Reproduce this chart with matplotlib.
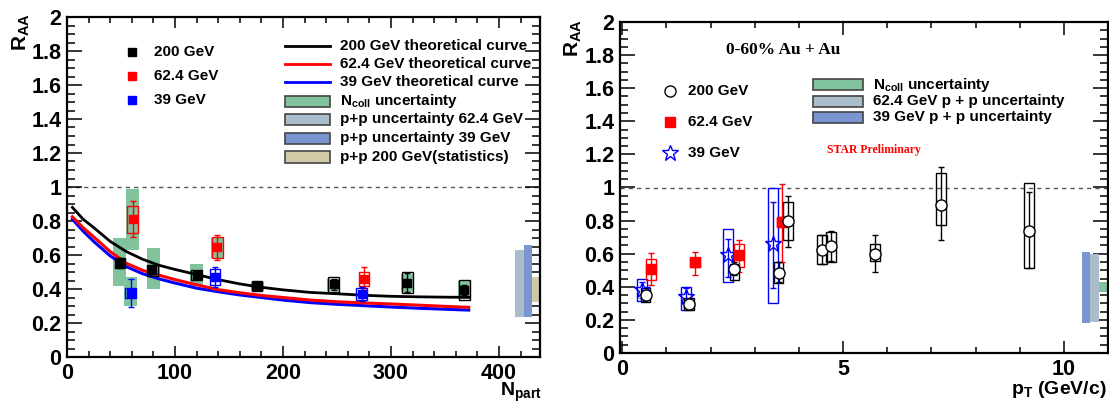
import matplotlib
matplotlib.use('Agg')
import matplotlib.pyplot as plt
from matplotlib.patches import Rectangle
from matplotlib.lines import Line2D
from matplotlib.ticker import MultipleLocator, FormatStrFormatter

plt.rcParams['font.family'] = ['Liberation Sans', 'DejaVu Sans']
plt.rcParams['font.weight'] = 'bold'
plt.rcParams['mathtext.fontset'] = 'custom'
plt.rcParams['mathtext.rm'] = 'Liberation Sans:bold'
plt.rcParams['mathtext.it'] = 'Liberation Sans:bold'
plt.rcParams['mathtext.bf'] = 'Liberation Sans:bold'

# ---------------- Left panel data (R_AA vs Npart) ----------------
curve_npart = [5, 15, 25, 40, 55, 70, 85, 100, 120, 140, 160, 180, 200, 225, 250, 275, 300, 325, 350, 372]
curve_200 = [0.88, 0.81, 0.76, 0.68, 0.62, 0.575, 0.54, 0.515, 0.485, 0.455, 0.43, 0.41, 0.395, 0.38, 0.372, 0.363, 0.357, 0.354, 0.352, 0.351]
curve_62 = [0.825, 0.76, 0.705, 0.62, 0.551, 0.51, 0.482, 0.455, 0.425, 0.396, 0.378, 0.362, 0.35, 0.335, 0.325, 0.318, 0.312, 0.305, 0.298, 0.292]
curve_39 = [0.81, 0.74, 0.678, 0.595, 0.531, 0.49, 0.46, 0.435, 0.405, 0.384, 0.365, 0.35, 0.335, 0.32, 0.31, 0.302, 0.294, 0.287, 0.281, 0.276]

n200 = [49, 79, 120, 176, 247, 315, 368]
r200 = [0.555, 0.51, 0.482, 0.416, 0.427, 0.437, 0.394]
sys200 = [0.03, 0.032, 0.03, 0.03, 0.042, 0.063, 0.06]
stat200 = [0.03, 0.02, 0.02, 0.02, 0.03, 0.055, 0.03]

n62 = [61, 139, 275]
r62 = [0.81, 0.645, 0.459]
sys62 = [0.078, 0.063, 0.042]
stat62 = [0.105, 0.073, 0.068]

n39 = [59, 137, 273]
r39 = [0.378, 0.471, 0.37]
sys39 = [0.03, 0.047, 0.035]
stat39 = [0.083, 0.06, 0.04]

ncoll_x = [49, 61, 59, 80, 120, 139, 176, 247, 315, 368]
ncoll_lo = [0.42, 0.63, 0.30, 0.40, 0.42, 0.585, 0.39, 0.39, 0.38, 0.34]
ncoll_hi = [0.70, 0.99, 0.47, 0.64, 0.547, 0.70, 0.44, 0.46, 0.49, 0.445]

# p+p bands at right edge (x-range, low, high)
band_names = ['pp 62.4', 'pp 39', 'pp 200']
band_x0 = [415, 423, 431]
band_x1 = [423, 431, 440]
band_lo = [0.235, 0.235, 0.325]
band_hi = [0.632, 0.66, 0.47]

# ---------------- Right panel data (R_AA vs pT) ----------------
pt200 = [0.53, 1.52, 2.54, 3.54, 3.76, 4.52, 4.72, 5.72, 7.22, 9.21]
ra200 = [0.35, 0.298, 0.51, 0.485, 0.795, 0.62, 0.645, 0.60, 0.896, 0.738]
box200_lo = [0.31, 0.26, 0.44, 0.42, 0.68, 0.535, 0.55, 0.555, 0.775, 0.515]
box200_hi = [0.39, 0.33, 0.54, 0.55, 0.915, 0.71, 0.73, 0.66, 1.09, 1.03]
err200_lo = [0.32, 0.275, 0.47, 0.43, 0.64, 0.54, 0.555, 0.49, 0.68, 0.515]
err200_hi = [0.38, 0.32, 0.55, 0.55, 0.95, 0.71, 0.735, 0.71, 1.125, 0.97]

pt62 = [0.65, 1.65, 2.65, 3.61]
ra62 = [0.51, 0.55, 0.593, 0.79]
box62_lo = [0.44, 0.52, 0.52, 0.76]
box62_hi = [0.57, 0.575, 0.66, 0.82]
err62_lo = [0.41, 0.47, 0.49, 0.55]
err62_hi = [0.605, 0.61, 0.68, 1.02]

pt39 = [0.45, 1.45, 2.4, 3.41]
ra39 = [0.383, 0.34, 0.593, 0.66]
box39_lo = [0.312, 0.26, 0.43, 0.30]
box39_hi = [0.449, 0.40, 0.75, 1.0]
err39_lo = [0.33, 0.28, 0.46, 0.39]
err39_hi = [0.43, 0.39, 0.69, 0.915]

rband_x0 = [10.4, 10.6, 10.8]
rband_x1 = [10.6, 10.8, 11.0]
rband_lo = [0.18, 0.19, 0.37]
rband_hi = [0.61, 0.60, 0.43]

GREEN = '#80c39d'
GREY = '#a9bdca'
BLUEB = '#7a96d0'
TAN = '#d0c9a8'
RED = '#ff0000'
BLUE = '#0000ff'

W, H = 1109, 405
fig = plt.figure(figsize=(W / 100, H / 100), dpi=100)


def fx(px):
    return px / W


def fy(py):
    return 1 - py / H


def style_axes(ax, xmaj, xmin, xmajlen=8, xminlen=4):
    for s in ax.spines.values():
        s.set_linewidth(1.6)
    ax.yaxis.set_major_locator(MultipleLocator(0.2))
    ax.yaxis.set_minor_locator(MultipleLocator(0.05))
    ax.xaxis.set_major_locator(MultipleLocator(xmaj))
    ax.xaxis.set_minor_locator(MultipleLocator(xmin))
    ax.yaxis.set_major_formatter(FormatStrFormatter('%g'))
    ax.xaxis.set_major_formatter(FormatStrFormatter('%g'))
    ax.tick_params(which='both', direction='in', top=True, right=True, width=1.1,
                   labelsize=15.5, pad=4)
    ax.tick_params(axis='y', which='major', length=11)
    ax.tick_params(axis='y', which='minor', length=5.5)
    ax.tick_params(axis='x', which='major', length=xmajlen)
    ax.tick_params(axis='x', which='minor', length=xminlen)
    ax.axhline(1.0, color='#555555', lw=1, ls=(0, (3, 3)), zorder=1)


# ================= LEFT PANEL =================
axL = fig.add_axes([fx(67), fy(357), fx(540) - fx(67), fy(17) - fy(357)])
axL.set_xlim(0, 438)
axL.set_ylim(0, 2)
style_axes(axL, 100, 20)

for x, lo, hi in zip(ncoll_x, ncoll_lo, ncoll_hi):
    axL.add_patch(Rectangle((x - 6, lo), 12, hi - lo, facecolor=GREEN, edgecolor='none', zorder=2))
for x0, x1, lo, hi, c in zip(band_x0, band_x1, band_lo, band_hi, [GREY, BLUEB, TAN]):
    axL.add_patch(Rectangle((x0, lo), x1 - x0, hi - lo, facecolor=c, edgecolor='none', zorder=2, clip_on=True))

axL.plot(curve_npart, curve_200, color='black', lw=2, zorder=3)
axL.plot(curve_npart, curve_39, color=BLUE, lw=2.2, zorder=3)
axL.plot(curve_npart, curve_62, color=RED, lw=2.2, zorder=3.1)

for xs, ys, sy, st, c in [(n200, r200, sys200, stat200, 'black'),
                          (n62, r62, sys62, stat62, RED),
                          (n39, r39, sys39, stat39, BLUE)]:
    for x, y, s in zip(xs, ys, sy):
        axL.add_patch(Rectangle((x - 5, y - s), 10, 2 * s, facecolor='none', edgecolor=c, lw=1, zorder=4))
    axL.errorbar(xs, ys, yerr=st, fmt='s', color=c, ms=6, elinewidth=1, capsize=2, capthick=1, zorder=5)

# legend markers (left)
fig.add_artist(Line2D([fx(132)], [fy(52)], marker='s', color='black', ms=6, ls='none'))
fig.add_artist(Line2D([fx(132)], [fy(76)], marker='s', color=RED, ms=6, ls='none'))
fig.add_artist(Line2D([fx(132)], [fy(100)], marker='s', color=BLUE, ms=6, ls='none'))
for y, t in zip([52, 76, 100], ['200 GeV', '62.4 GeV', '39 GeV']):
    fig.text(fx(154), fy(y), t, fontsize=11, fontweight='bold', va='center', ha='left')

for y, c in zip([46, 64, 82], ['black', RED, BLUE]):
    fig.add_artist(Line2D([fx(285), fx(330)], [fy(y), fy(y)], color=c, lw=2))
for y, c in zip([101, 119, 138, 157], [GREEN, GREY, BLUEB, TAN]):
    fig.add_artist(Rectangle((fx(285), fy(y + 5.5)), fx(330) - fx(285), fy(y - 5.5) - fy(y + 5.5),
                             transform=fig.transFigure, facecolor=c, edgecolor='#444444', lw=1.2))
left_leg_texts = ['200 GeV theoretical curve', '62.4 GeV theoretical curve', '39 GeV theoretical curve',
                  r'N$_{\rm coll}$ uncertainty', 'p+p uncertainty 62.4 GeV', 'p+p uncertainty 39 GeV',
                  'p+p 200 GeV(statistics)']
for y, t in zip([46, 64, 82, 101, 119, 138, 157], left_leg_texts):
    fig.text(fx(340), fy(y), t, fontsize=11, fontweight='bold', va='center', ha='left')

fig.text(fx(21), fy(32), r'R$_{\rm AA}$', fontsize=15, rotation=90, va='center', ha='center')
fig.text(fx(542), fy(392), r'N$_{\rm part}$', fontsize=14, va='center', ha='right')

# ================= RIGHT PANEL =================
axR = fig.add_axes([fx(620), fy(353), fx(1108) - fx(620), fy(22) - fy(353)])
axR.set_xlim(-0.05, 11)
axR.set_ylim(0, 2)
style_axes(axR, 5, 1, xmajlen=9, xminlen=4.5)

for x0, x1, lo, hi, c in zip(rband_x0, rband_x1, rband_lo, rband_hi, [BLUEB, GREY, GREEN]):
    axR.add_patch(Rectangle((x0, lo), x1 - x0, hi - lo, facecolor=c, edgecolor='none', zorder=2))

hw = 0.11
for xs, ys, blo, bhi, elo, ehi, c in [(pt39, ra39, box39_lo, box39_hi, err39_lo, err39_hi, BLUE),
                                      (pt62, ra62, box62_lo, box62_hi, err62_lo, err62_hi, RED),
                                      (pt200, ra200, box200_lo, box200_hi, err200_lo, err200_hi, 'black')]:
    for x, lo, hi in zip(xs, blo, bhi):
        axR.add_patch(Rectangle((x - hw, lo), 2 * hw, hi - lo, facecolor='none', edgecolor=c, lw=1, zorder=4))
    yerr = [[y - l for y, l in zip(ys, elo)], [h - y for y, h in zip(ys, ehi)]]
    axR.errorbar(xs, ys, yerr=yerr, fmt='none', ecolor=c, elinewidth=1, capsize=2, capthick=1, zorder=5)

axR.plot(pt39, ra39, ls='none', marker='*', ms=12, mfc='none', mec=BLUE, mew=1, zorder=6)
axR.plot(pt62, ra62, ls='none', marker='s', ms=7, color=RED, zorder=6)
axR.plot(pt200, ra200, ls='none', marker='o', ms=8, mfc='white', mec='black', mew=1, zorder=6)

fig.add_artist(Line2D([fx(670)], [fy(91)], marker='o', ms=8, mfc='white', mec='black', mew=1, ls='none'))
fig.add_artist(Line2D([fx(670)], [fy(122)], marker='s', ms=7, color=RED, ls='none'))
fig.add_artist(Line2D([fx(670)], [fy(153)], marker='*', ms=12, mfc='none', mec=BLUE, mew=1, ls='none'))
for y, t in zip([91, 122, 153], ['200 GeV', '62.4 GeV', '39 GeV']):
    fig.text(fx(688), fy(y), t, fontsize=11, fontweight='bold', va='center', ha='left')

for y, c in zip([84.5, 101, 117.5], [GREEN, GREY, BLUEB]):
    fig.add_artist(Rectangle((fx(813), fy(y + 5.5)), fx(863) - fx(813), fy(y - 5.5) - fy(y + 5.5),
                             transform=fig.transFigure, facecolor=c, edgecolor='#444444', lw=1.2))
right_leg_texts = [r'N$_{\rm coll}$ uncertainty', '62.4 GeV p + p uncertainty', '39 GeV p + p uncertainty']
for y, t in zip([84.5, 101, 117.5], right_leg_texts):
    fig.text(fx(873), fy(y), t, fontsize=11, fontweight='bold', va='center', ha='left')

fig.text(fx(783), fy(50), '0-60% Au + Au', fontsize=12.5, fontweight='bold', family='Liberation Serif',
         va='center', ha='center')
fig.text(fx(827), fy(150), 'STAR Preliminary', fontsize=8.5, fontweight='bold', family='Liberation Serif',
         color=RED, va='center', ha='left')

fig.text(fx(573), fy(38), r'R$_{\rm AA}$', fontsize=15, rotation=90, va='center', ha='center')
fig.text(fx(1107), fy(390), r'p$_{\rm T}$ (GeV/c)', fontsize=14, va='center', ha='right')

fig.savefig('out.png', dpi=100)
